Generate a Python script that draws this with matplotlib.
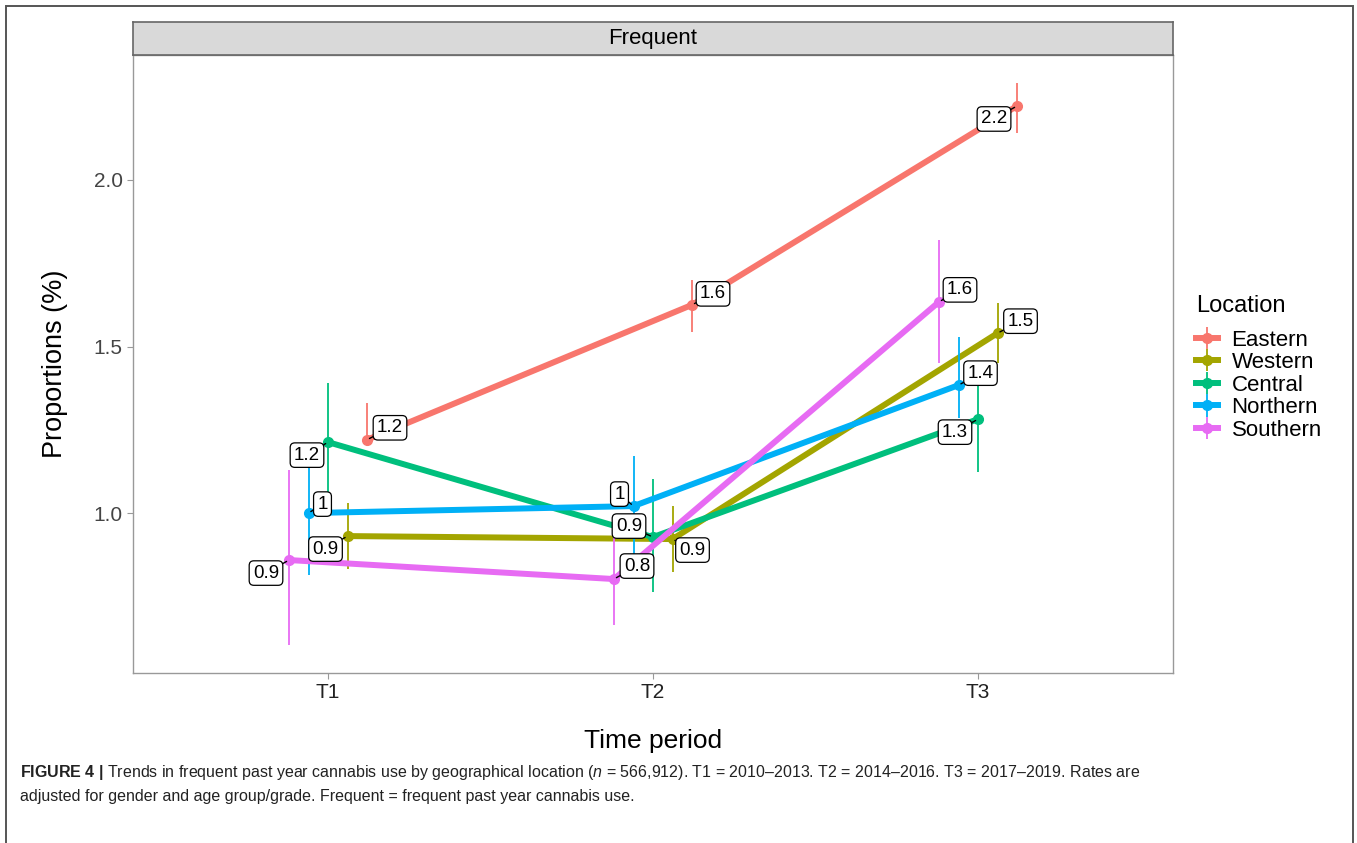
import matplotlib
matplotlib.use("Agg")
import matplotlib.pyplot as plt
from matplotlib import font_manager
from matplotlib.patches import Rectangle

# --- data ---
periods = ["T1", "T2", "T3"]
locations = ["Eastern", "Western", "Central", "Northern", "Southern"]

eastern = [1.220, 1.625, 2.222]
eastern_lo = [1.210, 1.544, 2.141]
eastern_hi = [1.330, 1.700, 2.291]

western = [0.931, 0.922, 1.540]
western_lo = [0.832, 0.823, 1.450]
western_hi = [1.030, 1.021, 1.631]

central = [1.213, 0.928, 1.282]
central_lo = [1.060, 0.763, 1.123]
central_hi = [1.390, 1.102, 1.390]

northern = [1.000, 1.021, 1.384]
northern_lo = [0.814, 0.868, 1.285]
northern_hi = [1.144, 1.171, 1.529]

southern = [0.859, 0.802, 1.634]
southern_lo = [0.604, 0.664, 1.450]
southern_hi = [1.129, 0.952, 1.820]

# --- styling ---
colors = ["#F8766D", "#A3A500", "#00BF7D", "#00B0F6", "#E76BF3"]
dodge = [0.12, 0.06, 0.0, -0.06, -0.12]
# label offsets (pixels) picked to mimic ggrepel placement
label_offsets = [
    [(23, 12), (21, 11), (-23, -13)],
    [(-22, -13), (20, -11), (23, 12)],
    [(-21, -13), (-24, 11), (-23, -13)],
    [(14, 9), (-14, 12), (22, 12)],
    [(-23, -13), (23, 13), (21, 12)],
]

names = {f.name for f in font_manager.fontManager.ttflist}
sans = "Liberation Sans" if "Liberation Sans" in names else "DejaVu Sans"
plt.rcParams["font.family"] = [sans, "DejaVu Sans"]
plt.rcParams["mathtext.fontset"] = "custom"
plt.rcParams["mathtext.rm"] = sans
plt.rcParams["mathtext.it"] = sans + ":italic"
plt.rcParams["mathtext.bf"] = sans + ":bold"

W, H = 1357, 843
fig = plt.figure(figsize=(W / 100, H / 100), dpi=100)

# outer frame of the figure caption box
fig.patches.append(Rectangle((6 / W, -0.01), (1353 - 6) / W, (H - 6) / H + 0.01,
                             transform=fig.transFigure, fill=False,
                             edgecolor="#555555", lw=1.4))

ax = fig.add_axes([133 / W, (H - 673) / H, (1173 - 133) / W, (673 - 55) / H])

series = [
    (eastern, eastern_lo, eastern_hi),
    (western, western_lo, western_hi),
    (central, central_lo, central_hi),
    (northern, northern_lo, northern_hi),
    (southern, southern_lo, southern_hi),
]

xs = list(range(1, len(periods) + 1))
for i, (vals, lo, hi) in enumerate(series):
    x = [p + dodge[i] for p in xs]
    yerr = [[v - l for v, l in zip(vals, lo)], [h - v for v, h in zip(vals, hi)]]
    ax.errorbar(x, vals, yerr=yerr, fmt="-o", color=colors[i], lw=4.3,
                markersize=7, elinewidth=1.3, capsize=0, label=locations[i],
                zorder=2 + i)

for i, (vals, lo, hi) in enumerate(series):
    for j, v in enumerate(vals):
        ax.annotate(f"{round(v, 1):g}", (xs[j] + dodge[i], v),
                    xytext=label_offsets[i][j], textcoords="offset pixels",
                    ha="center", va="center", fontsize=13.5, zorder=20,
                    bbox=dict(boxstyle="round,pad=0.2,rounding_size=0.25",
                              fc="white", ec="black", lw=0.9),
                    arrowprops=dict(arrowstyle="-", color="black", lw=1.0,
                                    shrinkA=0, shrinkB=2))

ax.set_xlim(0.4, 3.6)
ax.set_ylim(0.52, 2.375)
ax.set_xticks(xs)
ax.set_xticklabels(periods)
ax.set_yticks([1.0, 1.5, 2.0])
ax.set_yticklabels(["1.0", "1.5", "2.0"])
ax.tick_params(labelsize=15, length=4, width=0.8, color="#999999")
ax.tick_params(axis="x", labelcolor="#222222")
ax.tick_params(axis="y", labelcolor="#444444")
for s in ax.spines.values():
    s.set_color("#999999")
    s.set_linewidth(1.0)
ax.set_xlabel("Time period", fontsize=19, labelpad=19)
ax.set_ylabel("Proportions (%)", fontsize=19.5, labelpad=18)

# facet strip
strip = fig.add_axes([133 / W, (H - 55) / H, (1173 - 133) / W, 33 / H])
strip.set_facecolor("#D9D9D9")
strip.set_xticks([])
strip.set_yticks([])
for s in strip.spines.values():
    s.set_color("#666666")
    s.set_linewidth(1.2)
strip.text(0.5, 0.5, "Frequent", ha="center", va="center", fontsize=16,
           transform=strip.transAxes)

leg = fig.legend(loc="upper left", bbox_to_anchor=(1196 / W, (H - 295) / H),
                 frameon=False, title="Location", fontsize=16,
                 title_fontsize=17, handlelength=1.0, labelspacing=0.07,
                 handletextpad=0.6, borderaxespad=0, borderpad=0)
leg._legend_box.align = "left"
leg._legend_box.sep = 9

caption1 = (r"$\mathbf{FIGURE\ 4\ |}$ Trends in frequent past year cannabis use by "
            r"geographical location ($\mathit{n}$ = 566,912). T1 = 2010–2013. "
            r"T2 = 2014–2016. T3 = 2017–2019. Rates are")
caption2 = "adjusted for gender and age group/grade. Frequent = frequent past year cannabis use."
fig.text(20 / W, (H - 772) / H, caption1, fontsize=11.5, va="center", color="#222222")
fig.text(20 / W, (H - 797) / H, caption2, fontsize=11.5, va="center", color="#222222")

fig.savefig("out.png", dpi=100)
